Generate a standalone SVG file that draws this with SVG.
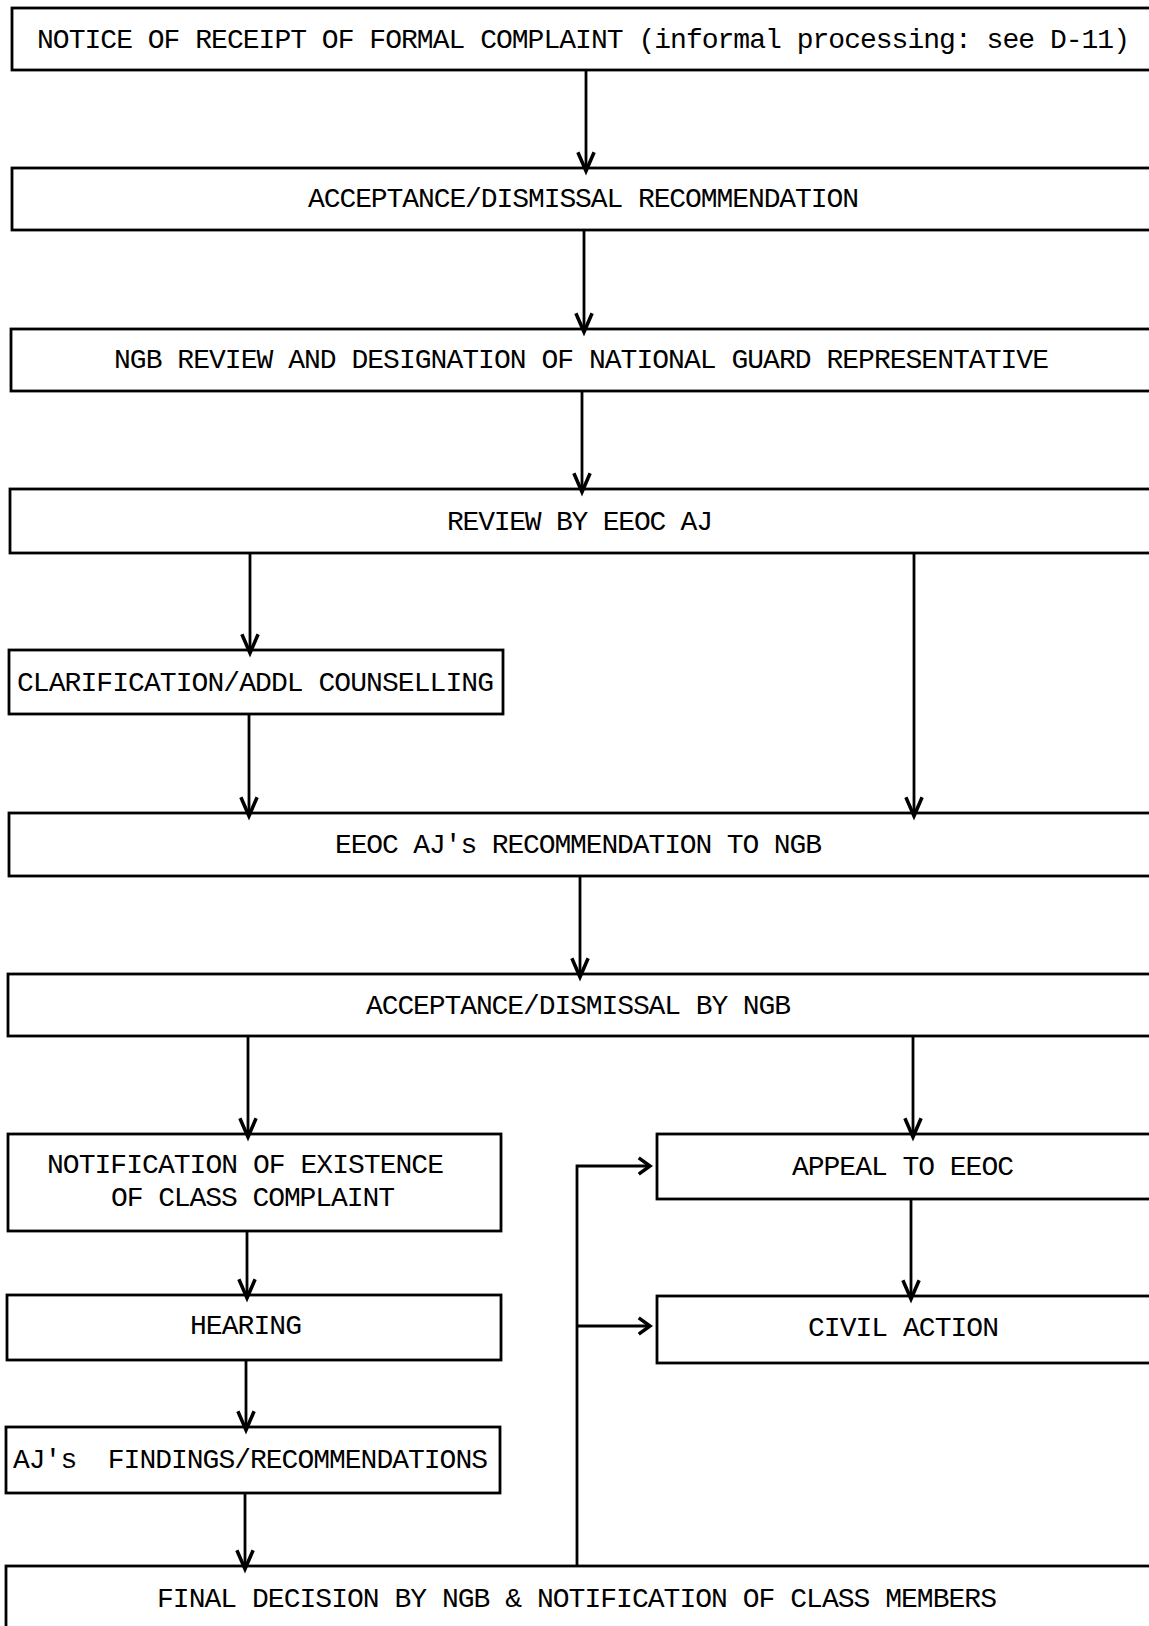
<svg xmlns="http://www.w3.org/2000/svg" width="1149" height="1626" viewBox="0 0 1149 1626">
<style>
.box{fill:none;stroke:#000;stroke-width:2.8}
.t{font-family:"Liberation Mono","DejaVu Sans Mono",monospace;font-size:28px;fill:#000}
.c{fill:none;stroke:#000;stroke-width:2.8}
</style>
<defs>
<marker id="v" markerUnits="userSpaceOnUse" markerWidth="30" markerHeight="30" refX="0" refY="0" viewBox="-20 -10 24 20" orient="auto" overflow="visible">
<path d="M-15,-6.5 L0,0 L-15,6.5" fill="none" stroke="#000" stroke-width="2.8"/>
</marker>
<marker id="h" markerUnits="userSpaceOnUse" markerWidth="30" markerHeight="30" refX="0" refY="0" viewBox="-20 -10 24 20" orient="auto" overflow="visible">
<path d="M-9,-6.5 L0,0 L-9,6.5" fill="none" stroke="#000" stroke-width="2.8"/>
</marker>
</defs>
<rect width="1149" height="1626" fill="#fff"/>
<g id="n1"><rect class="box" x="12" y="8" width="1150" height="62"/><text class="t" x="37" y="47.5" textLength="1093" lengthAdjust="spacing">NOTICE OF RECEIPT OF FORMAL COMPLAINT (informal processing: see D-11)</text></g>
<g id="n2"><rect class="box" x="12" y="168" width="1150" height="62"/><text class="t" x="308" y="207" textLength="551" lengthAdjust="spacing">ACCEPTANCE/DISMISSAL RECOMMENDATION</text></g>
<g id="n3"><rect class="box" x="11" y="329" width="1150" height="62"/><text class="t" x="114" y="368" textLength="935" lengthAdjust="spacing">NGB REVIEW AND DESIGNATION OF NATIONAL GUARD REPRESENTATIVE</text></g>
<g id="n4"><rect class="box" x="10" y="489" width="1150" height="64"/><text class="t" x="447" y="529.5" textLength="266" lengthAdjust="spacing">REVIEW BY EEOC AJ</text></g>
<g id="n5"><rect class="box" x="9" y="650" width="494" height="64"/><text class="t" x="17" y="691" textLength="477" lengthAdjust="spacing">CLARIFICATION/ADDL COUNSELLING</text></g>
<g id="n6"><rect class="box" x="9" y="813" width="1150" height="63"/><text class="t" x="335" y="853" textLength="487" lengthAdjust="spacing">EEOC AJ's RECOMMENDATION TO NGB</text></g>
<g id="n7"><rect class="box" x="8" y="974" width="1150" height="62"/><text class="t" x="366" y="1013.5" textLength="425" lengthAdjust="spacing">ACCEPTANCE/DISMISSAL BY NGB</text></g>
<g id="n8"><rect class="box" x="8" y="1134" width="493" height="97"/><text class="t" x="47" y="1173" textLength="397" lengthAdjust="spacing">NOTIFICATION OF EXISTENCE</text><text class="t" x="111" y="1205.5" textLength="284" lengthAdjust="spacing">OF CLASS COMPLAINT</text></g>
<g id="n9"><rect class="box" x="657" y="1134" width="1150" height="65"/><text class="t" x="792" y="1175" textLength="222" lengthAdjust="spacing">APPEAL TO EEOC</text></g>
<g id="n10"><rect class="box" x="657" y="1296" width="1150" height="67"/><text class="t" x="808" y="1336" textLength="191" lengthAdjust="spacing">CIVIL ACTION</text></g>
<g id="n11"><rect class="box" x="7" y="1295" width="494" height="65"/><text class="t" x="190" y="1334" textLength="112" lengthAdjust="spacing">HEARING</text></g>
<g id="n12"><rect class="box" x="6" y="1427" width="494" height="66"/><text class="t" x="13" y="1467.5" textLength="475" lengthAdjust="spacing" xml:space="preserve">AJ's  FINDINGS/RECOMMENDATIONS</text></g>
<g id="n13"><rect class="box" x="6" y="1566" width="1150" height="80"/><text class="t" x="157" y="1606.5" textLength="840" lengthAdjust="spacing">FINAL DECISION BY NGB &amp; NOTIFICATION OF CLASS MEMBERS</text></g>
<g id="connectors">
<line class="c" x1="586" y1="70" x2="586" y2="171" marker-end="url(#v)"/>
<line class="c" x1="584" y1="230" x2="584" y2="332" marker-end="url(#v)"/>
<line class="c" x1="582" y1="391" x2="582" y2="492" marker-end="url(#v)"/>
<line class="c" x1="250" y1="553" x2="250" y2="653" marker-end="url(#v)"/>
<line class="c" x1="914" y1="553" x2="914" y2="816" marker-end="url(#v)"/>
<line class="c" x1="249" y1="714" x2="249" y2="816" marker-end="url(#v)"/>
<line class="c" x1="580" y1="876" x2="580" y2="977" marker-end="url(#v)"/>
<line class="c" x1="248" y1="1036" x2="248" y2="1137" marker-end="url(#v)"/>
<line class="c" x1="913" y1="1036" x2="913" y2="1137" marker-end="url(#v)"/>
<line class="c" x1="911" y1="1199" x2="911" y2="1299" marker-end="url(#v)"/>
<line class="c" x1="247" y1="1231" x2="247" y2="1298" marker-end="url(#v)"/>
<line class="c" x1="246" y1="1360" x2="246" y2="1430" marker-end="url(#v)"/>
<line class="c" x1="245" y1="1493" x2="245" y2="1569" marker-end="url(#v)"/>
<polyline class="c" points="577,1566 577,1166 650,1166" marker-end="url(#h)"/>
<line class="c" x1="577" y1="1326" x2="650" y2="1326" marker-end="url(#h)"/>
</g>
</svg>
